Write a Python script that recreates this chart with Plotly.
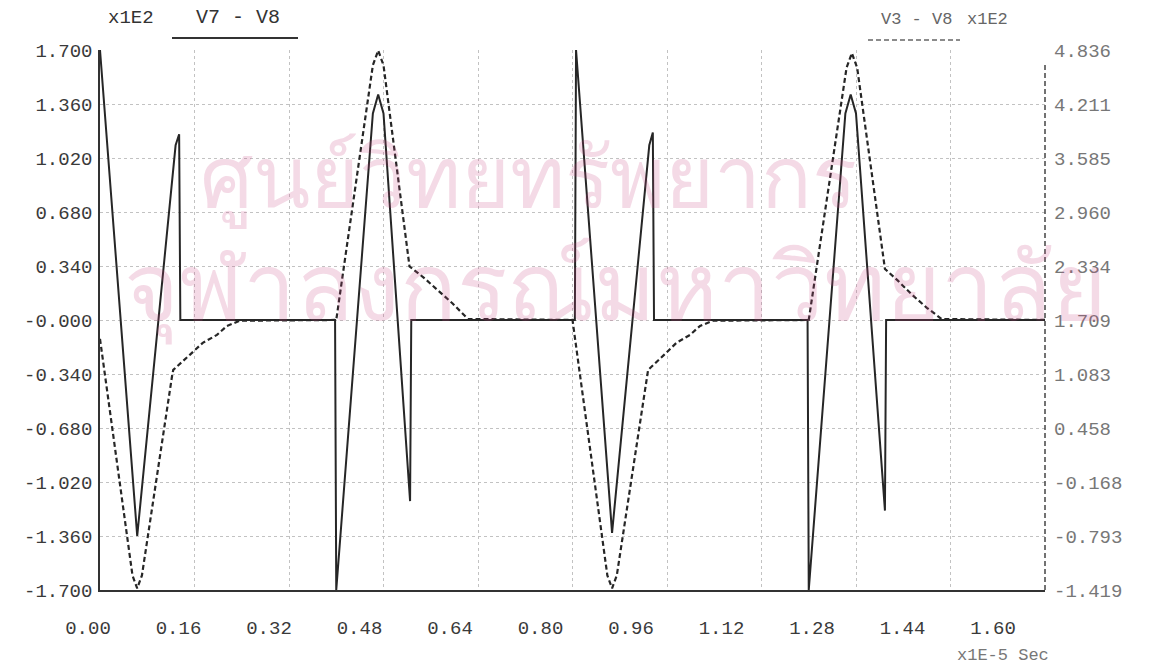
import plotly.graph_objects as go

# Time axis (x1E-5 s) and the two probe traces
t_v78 = [0.000, 0.063, 0.128, 0.134, 0.136, 0.398, 0.400, 0.462, 0.471, 0.480, 0.525, 0.527,
         0.804, 0.806, 0.867, 0.930, 0.936, 0.938, 1.198, 1.200, 1.262, 1.271, 1.280, 1.329,
         1.331, 1.600]
v78 = [1.70, -1.36, 1.10, 1.17, 0.00, 0.00, -1.70, 1.30, 1.42, 1.30, -1.14, 0.00,
       0.00, 1.70, -1.34, 1.10, 1.18, 0.00, 0.00, -1.70, 1.30, 1.42, 1.30, -1.20,
       0.00, 0.00]

t_v38 = [0.000, 0.055, 0.063, 0.071, 0.122, 0.124, 0.152, 0.174, 0.198, 0.215, 0.237,
         0.400, 0.462, 0.471, 0.480, 0.524, 0.548, 0.572, 0.597, 0.623,
         0.800, 0.859, 0.867, 0.875, 0.926, 0.928, 0.955, 0.976, 0.999, 1.016, 1.038,
         1.200, 1.264, 1.273, 1.282, 1.329, 1.350, 1.375, 1.400, 1.425, 1.600]
v38 = [1.49, -1.25, -1.40, -1.25, 1.06, 1.13, 1.305, 1.444, 1.536, 1.64, 1.70,
       1.709, 4.66, 4.83, 4.66, 2.33, 2.20, 2.05, 1.90, 1.72,
       1.709, -1.25, -1.40, -1.25, 1.08, 1.13, 1.305, 1.444, 1.536, 1.64, 1.70,
       1.709, 4.63, 4.80, 4.63, 2.30, 2.17, 2.00, 1.85, 1.72, 1.709]

x_ticks = [0.00, 0.16, 0.32, 0.48, 0.64, 0.80, 0.96, 1.12, 1.28, 1.44, 1.60]
x_labels = ["0.00", "0.16", "0.32", "0.48", "0.64", "0.80", "0.96", "1.12", "1.28", "1.44", "1.60"]

y1_ticks = [1.70, 1.36, 1.02, 0.68, 0.34, 0.0, -0.34, -0.68, -1.02, -1.36, -1.70]
y1_labels = ["1.700", "1.360", "1.020", "0.680", "0.340", "-0.000",
             "-0.340", "-0.680", "-1.020", "-1.360", "-1.700"]

y2_ticks = [4.836, 4.211, 3.585, 2.960, 2.334, 1.709, 1.083, 0.458, -0.168, -0.793, -1.419]
y2_labels = ["4.836", "4.211", "3.585", "2.960", "2.334", "1.709",
             "1.083", "0.458", "-0.168", "-0.793", "-1.419"]

MONO = "Liberation Mono, DejaVu Sans Mono, monospace"
INK = "#262626"

W, H = 1158, 667
ML, MR, MT, MB = 80, 113, 50, 77
PW, PH = W - ML - MR, H - MT - MB
PLOT_LEFT = 100          # left edge of the data frame
LABEL_LEFT, LABEL_RIGHT = 88, 993   # printed time scale runs slightly short of the frame


def px(x):
    return (x - ML) / PW


def py(y):
    return (H - MB - y) / PH


fig = go.Figure()
fig.add_trace(go.Scatter(
    x=t_v78, y=v78, mode="lines", name="V7 - V8",
    line=dict(color=INK, width=2), xaxis="x", yaxis="y",
))
fig.add_trace(go.Scatter(
    x=t_v38, y=v38, mode="lines", name="V3 - V8",
    line=dict(color=INK, width=2.2, dash="5px,3px"), xaxis="x", yaxis="y2",
))
# carrier for the printed time-label scale
fig.add_trace(go.Scatter(x=[], y=[], xaxis="x2", yaxis="y3", hoverinfo="skip",
                         showlegend=False))

fig.update_layout(
    width=W, height=H,
    margin=dict(l=ML, r=MR, t=MT, b=MB),
    paper_bgcolor="white", plot_bgcolor="rgba(0,0,0,0)",
    showlegend=False,
    font=dict(family=MONO, size=19, color="#3a3a3a"),
    xaxis=dict(
        domain=[px(PLOT_LEFT), 1], anchor="y",
        range=[0, 1.6], tickvals=x_ticks, showticklabels=False,
        showgrid=True, gridcolor="#c2c2c2", griddash="dot", gridwidth=1,
        showline=True, linecolor="#333333", linewidth=1.5,
        zeroline=False, ticks="",
    ),
    xaxis2=dict(
        domain=[px(LABEL_LEFT), px(LABEL_RIGHT)], anchor="y3", side="bottom",
        range=[0, 1.6], tickvals=x_ticks, ticktext=x_labels,
        showgrid=False, showline=False, zeroline=False, ticks="",
        ticklabelstandoff=24,
        tickfont=dict(family=MONO, size=19, color="#3a3a3a"),
    ),
    yaxis=dict(
        anchor="x",
        range=[-1.7, 1.7], tickvals=y1_ticks, ticktext=y1_labels,
        showgrid=True, gridcolor="#c2c2c2", griddash="dot", gridwidth=1,
        showline=True, linecolor="#333333", linewidth=1.5,
        zeroline=False, ticks="", ticklabelstandoff=2,
        tickfont=dict(family=MONO, size=19, color="#3a3a3a"),
    ),
    yaxis2=dict(
        anchor="x",
        range=[-1.419, 4.836], tickvals=y2_ticks, ticktext=y2_labels,
        overlaying="y", side="right", showgrid=False, showline=False,
        zeroline=False, ticks="", ticklabelstandoff=8,
        tickfont=dict(family=MONO, size=19, color="#777777"),
    ),
    yaxis3=dict(anchor="x2", domain=[0, 1], range=[0, 1], visible=False),
)

# dashed right-hand axis for the V3 - V8 scale
fig.add_shape(type="line", xref="paper", yref="paper", x0=1, x1=1, y0=0, y1=0.975,
              line=dict(color="#444444", width=1.5, dash="5px,3px"))

# trace captions with their line-style keys
fig.add_annotation(xref="paper", yref="paper", x=px(131), y=py(18), text="x1E2",
                   xanchor="center", yanchor="middle", showarrow=False,
                   font=dict(family=MONO, size=19, color="#333333"))
fig.add_annotation(xref="paper", yref="paper", x=px(238), y=py(18), text="V7 - V8",
                   xanchor="center", yanchor="middle", showarrow=False,
                   font=dict(family=MONO, size=20, color="#333333"))
fig.add_shape(type="line", xref="paper", yref="paper", x0=px(172), x1=px(298),
              y0=py(38), y1=py(38), line=dict(color="#333333", width=1.8))

fig.add_annotation(xref="paper", yref="paper", x=px(916), y=py(20), text="V3 - V8",
                   xanchor="center", yanchor="middle", showarrow=False,
                   font=dict(family=MONO, size=17, color="#666666"))
fig.add_annotation(xref="paper", yref="paper", x=px(987), y=py(20), text="x1E2",
                   xanchor="center", yanchor="middle", showarrow=False,
                   font=dict(family=MONO, size=17, color="#666666"))
fig.add_shape(type="line", xref="paper", yref="paper", x0=px(868), x1=px(960),
              y0=py(40), y1=py(40), line=dict(color="#666666", width=1.5, dash="5px,3px"))

fig.add_annotation(xref="paper", yref="paper", x=px(1003), y=py(655),
                   xanchor="center", yanchor="middle",
                   text="x1E-5 Sec", showarrow=False,
                   font=dict(family=MONO, size=17, color="#777777"))

# faint library stamp behind the plot
fig.add_annotation(xref="paper", yref="paper", x=px(528), y=py(182),
                   xanchor="center", yanchor="middle",
                   text="ศูนย์วิทยทรัพยากร", showarrow=False,
                   font=dict(size=84, color="rgba(200,70,130,0.2)"))
fig.add_annotation(xref="paper", yref="paper", x=px(615), y=py(292),
                   xanchor="center", yanchor="middle",
                   text="จุฬาลงกรณ์มหาวิทยาลัย", showarrow=False,
                   font=dict(size=94, color="rgba(200,70,130,0.2)"))

fig.write_html("out.html")
